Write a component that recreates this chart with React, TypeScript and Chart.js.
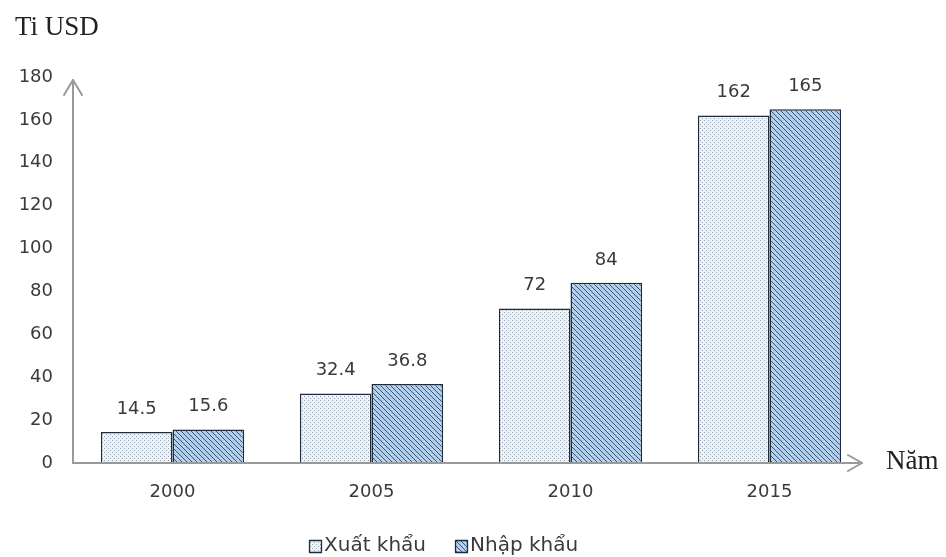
import React, { useEffect, useRef } from "react";
import { Chart, registerables } from "chart.js";

Chart.register(...registerables);

const categories = ["2000", "2005", "2010", "2015"];
const exportValues = [14.5, 32.4, 72, 162];
const importValues = [15.6, 36.8, 84, 165];
const seriesNames = ["Xuất khẩu", "Nhập khẩu"];
const yTitle = "Ti USD";
const xTitle = "Năm";
const yMin = 0;
const yMax = 180;
const yStep = 20;

const SANS = "'DejaVu Sans', Verdana, sans-serif";
const SERIF = "'Liberation Serif', 'Times New Roman', serif";
const TEXT = "#3a3a3a";
const AXIS = "#9a9a9a";
const BORDER = "#1f2b3a";

function makeDots(): CanvasPattern | string {
  const c = document.createElement("canvas");
  c.width = 4;
  c.height = 4;
  const g = c.getContext("2d");
  if (!g) return "#eef2f7";
  g.fillStyle = "#eef3f8";
  g.fillRect(0, 0, 4, 4);
  g.fillStyle = "#95a2b2";
  g.fillRect(0, 0, 1, 1);
  g.fillRect(2, 2, 1, 1);
  return g.createPattern(c, "repeat") || "#eef2f7";
}

function makeStripes(): CanvasPattern | string {
  const w = 5;
  const c = document.createElement("canvas");
  c.width = w;
  c.height = w;
  const g = c.getContext("2d");
  if (!g) return "#a9c7e6";
  g.fillStyle = "#b2cfee";
  g.fillRect(0, 0, w, w);
  g.strokeStyle = "#3b5576";
  g.lineWidth = 1.0;
  for (const k of [-w, 0, w]) {
    g.beginPath();
    g.moveTo(k - 1, -1);
    g.lineTo(k + w + 1, w + 1);
    g.stroke();
  }
  return g.createPattern(c, "repeat") || "#a9c7e6";
}

export default function App() {
  const ref = useRef<HTMLCanvasElement>(null);

  useEffect(() => {
    const canvas = ref.current;
    if (!canvas) return;
    const dots = makeDots();
    const stripes = makeStripes();
    const fills = [dots, stripes];

    const overlay = {
      id: "overlay",
      afterDatasetsDraw(chart: any) {
        const ctx = chart.ctx as CanvasRenderingContext2D;
        const { left, right, top, bottom } = chart.chartArea;
        ctx.save();
        ctx.strokeStyle = AXIS;
        ctx.lineWidth = 2;
        ctx.lineCap = "round";
        ctx.lineJoin = "round";
        const yTip = top + 3;
        ctx.beginPath();
        ctx.moveTo(left, bottom);
        ctx.lineTo(left, yTip);
        ctx.stroke();
        ctx.beginPath();
        ctx.moveTo(left - 9, yTip + 15);
        ctx.lineTo(left, yTip);
        ctx.lineTo(left + 9, yTip + 15);
        ctx.stroke();
        const xTip = right - 7;
        ctx.beginPath();
        ctx.moveTo(left, bottom);
        ctx.lineTo(xTip, bottom);
        ctx.stroke();
        ctx.beginPath();
        ctx.moveTo(xTip - 14, bottom - 8);
        ctx.lineTo(xTip, bottom);
        ctx.lineTo(xTip - 14, bottom + 8);
        ctx.stroke();

        ctx.fillStyle = TEXT;
        ctx.font = `18px ${SANS}`;
        ctx.textAlign = "center";
        ctx.textBaseline = "middle";
        chart.data.datasets.forEach((ds: any, di: number) => {
          const meta = chart.getDatasetMeta(di);
          meta.data.forEach((el: any, i: number) => {
            ctx.fillText(String(ds.data[i]), el.x, el.y - 23);
          });
        });

        ctx.fillStyle = "#222";
        ctx.font = `27px ${SERIF}`;
        ctx.textAlign = "left";
        ctx.textBaseline = "middle";
        ctx.fillText(yTitle, 15, 28);
        ctx.fillText(xTitle, 886, bottom - 1);

        const legendItems = [
          { x: 309, text: seriesNames[0], fill: fills[0] },
          { x: 455, text: seriesNames[1], fill: fills[1] },
        ];
        ctx.font = `20px ${SANS}`;
        ctx.textBaseline = "middle";
        legendItems.forEach((it) => {
          const by = 540;
          ctx.fillStyle = it.fill as any;
          ctx.fillRect(it.x, by, 13, 13);
          ctx.strokeStyle = BORDER;
          ctx.lineWidth = 1.3;
          ctx.strokeRect(it.x + 0.5, by + 0.5, 12, 12);
          ctx.fillStyle = TEXT;
          ctx.fillText(it.text, it.x + 15, by + 6);
        });
        ctx.restore();
      },
    };

    const chart = new Chart(canvas, {
      type: "bar",
      data: {
        labels: categories,
        datasets: [
          {
            label: seriesNames[0],
            data: exportValues,
            backgroundColor: dots as any,
            borderColor: BORDER,
            borderWidth: 1.5,
            barPercentage: 1,
            categoryPercentage: 0.72,
          },
          {
            label: seriesNames[1],
            data: importValues,
            backgroundColor: stripes as any,
            borderColor: BORDER,
            borderWidth: 1.5,
            barPercentage: 1,
            categoryPercentage: 0.72,
          },
        ],
      },
      options: {
        responsive: false,
        animation: false,
        devicePixelRatio: 1,
        layout: { padding: { top: 77, right: 77, left: 0, bottom: 0 } },
        plugins: {
          legend: { display: false },
          tooltip: { enabled: false },
        },
        scales: {
          x: {
            grid: { display: false, drawTicks: false },
            border: { display: false },
            ticks: {
              color: TEXT,
              font: { family: SANS, size: 18 },
              padding: 19,
            },
            afterFit: (s: any) => {
              s.height = 94;
            },
          },
          y: {
            min: yMin,
            max: yMax,
            grid: { display: false, drawTicks: false },
            border: { display: false },
            ticks: {
              stepSize: yStep,
              color: TEXT,
              font: { family: SANS, size: 18 },
              padding: 20,
            },
            afterFit: (s: any) => {
              s.width = 73;
            },
          },
        },
      },
      plugins: [overlay],
    });

    return () => chart.destroy();
  }, []);

  return (
    <div style={{ position: "absolute", left: 0, top: 0, width: 946, height: 557, background: "#fff" }}>
      <canvas ref={ref} width={946} height={557} style={{ display: "block" }} />
    </div>
  );
}
